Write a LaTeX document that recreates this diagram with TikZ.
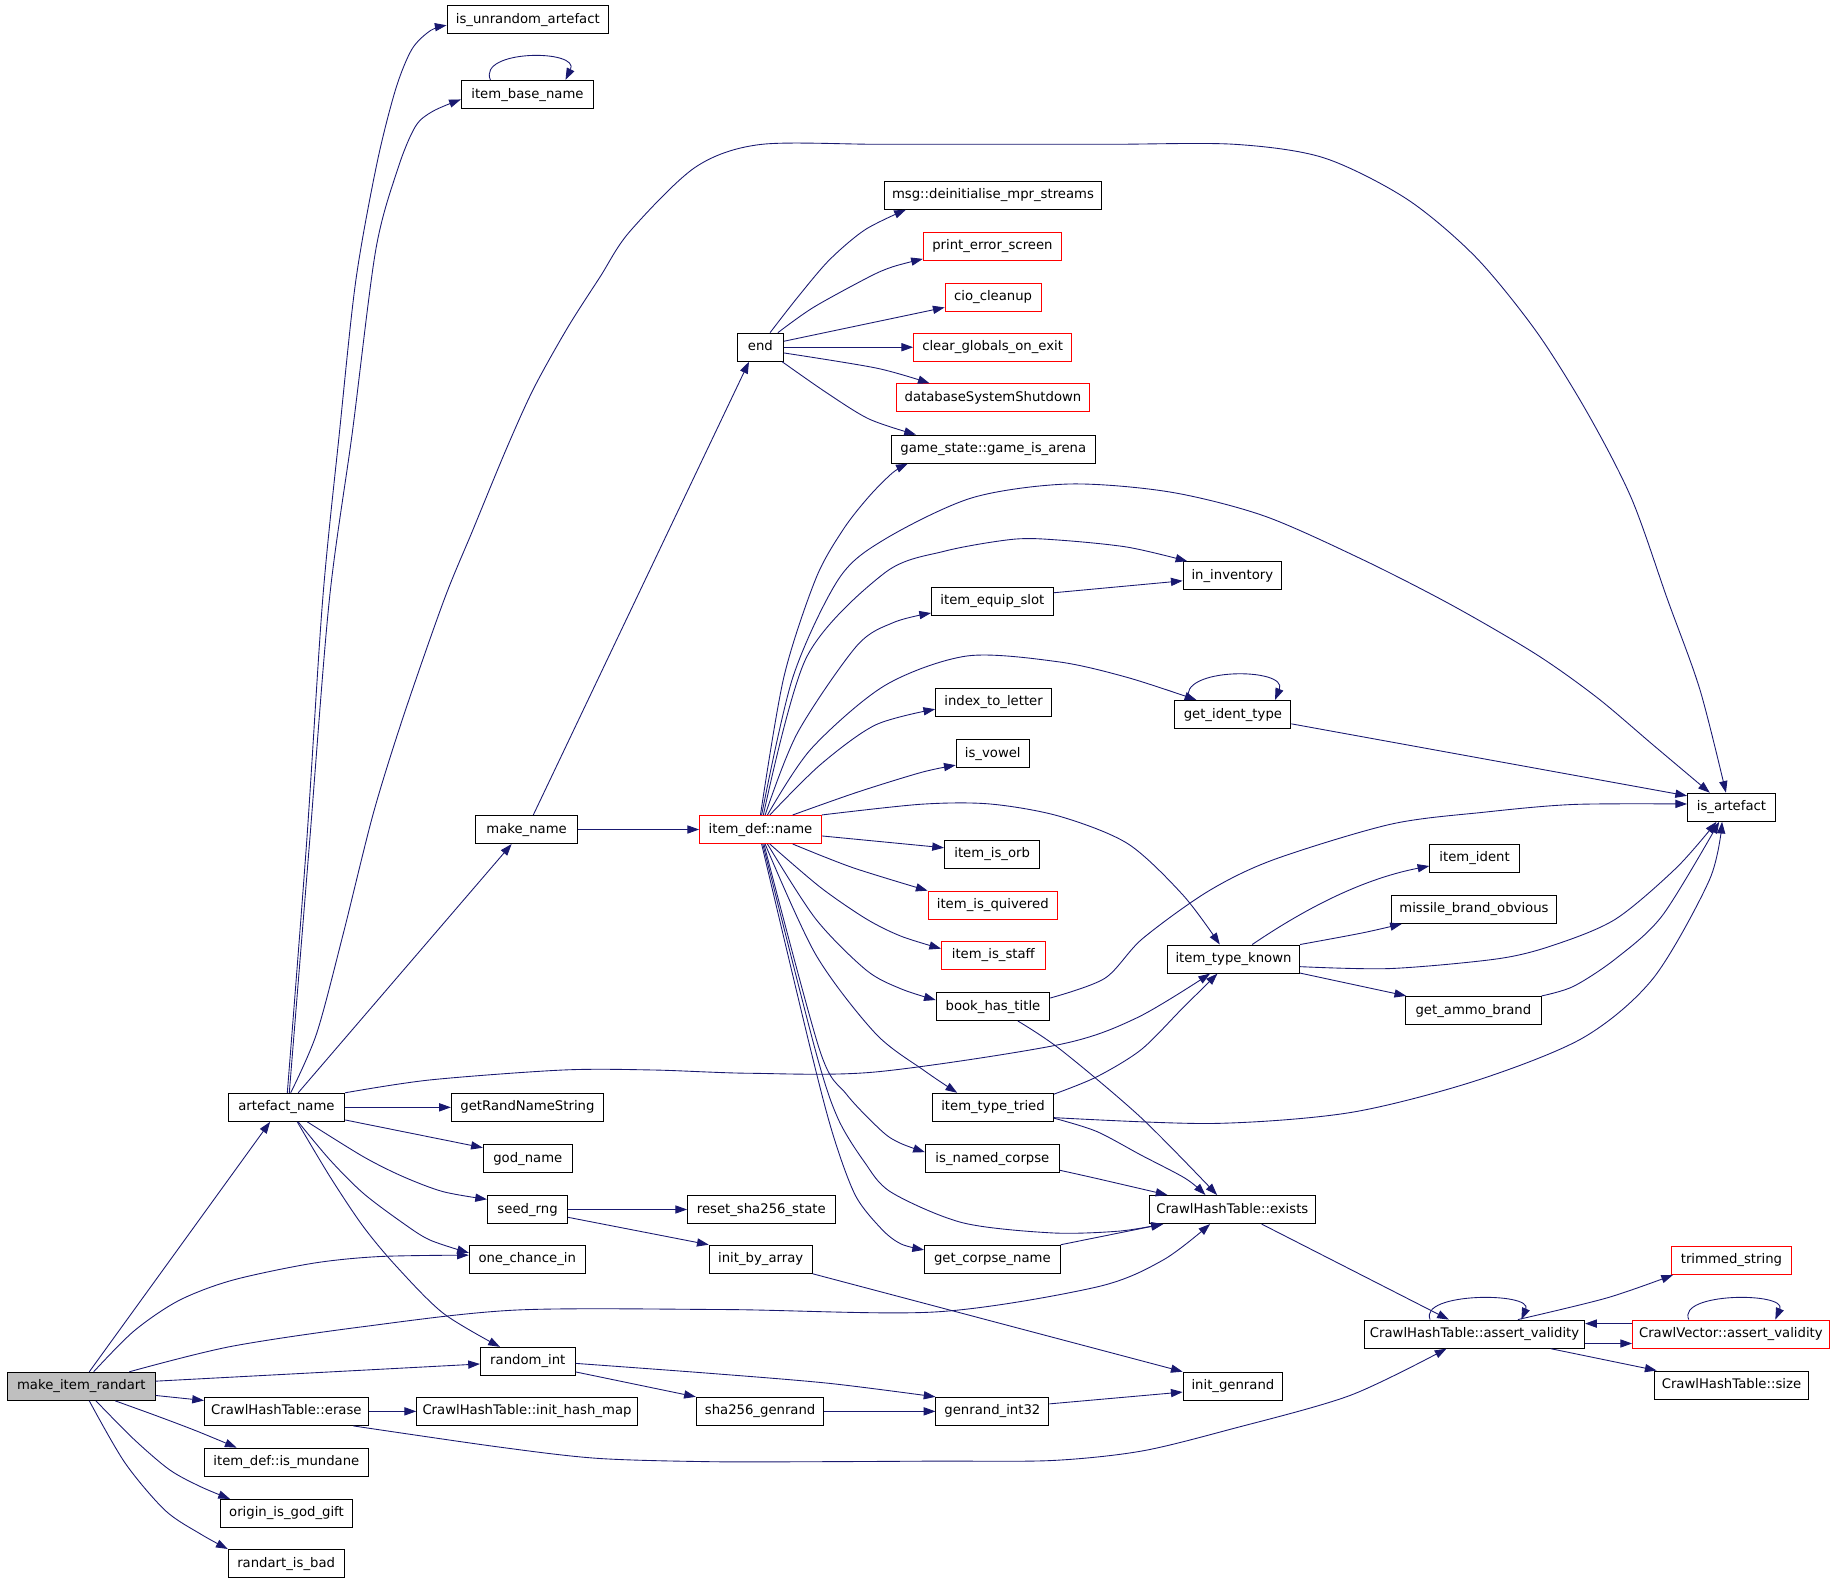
\documentclass[tikz,border=0pt]{standalone}
\usepackage{fontspec}
\setmainfont{DejaVu Sans}
\usetikzlibrary{arrows.meta}
\definecolor{callblue}{RGB}{25,25,112}
\definecolor{rootgray}{RGB}{191,191,191}
\tikzset{
	every node/.style={
		font=\fontsize{11.3}{13}\selectfont
	},
	fn/.style={
		shape=rectangle,
		draw=black,
		line width=0.85pt,
		minimum height=24pt,
		text height=8.7pt,
		text depth=2.6pt,
		inner sep=0pt
	},
	fnred/.style={
		fn,
		draw=red
	},
	fnroot/.style={
		fn,
		fill=rootgray
	},
	call/.style={
		draw=callblue,
		line width=0.75pt,
		->
	}
}

\begin{document}
\begin{tikzpicture}[x=1pt,y=-1pt,>={Triangle[length=10pt,width=7pt]}]
  \useasboundingbox (0,0) rectangle (1568,1351);

  \node[fnroot, minimum width=126pt]  (mir)         at (69.5,1184.6)  {make\_item\_randart};
  \node[fn, minimum width=99.5pt]     (artn)        at (244.8,946.2)  {artefact\_name};
  \node[fn, minimum width=140pt]      (erase)       at (244.7,1206)   {CrawlHashTable::erase};
  \node[fn, minimum width=140pt]      (mundane)     at (244.7,1249.4) {item\_def::is\_mundane};
  \node[fn, minimum width=112.5pt]    (godgift)     at (244.8,1293.2) {origin\_is\_god\_gift};
  \node[fn, minimum width=99pt]       (randbad)     at (244.5,1336)   {randart\_is\_bad};

  \node[fn, minimum width=138pt]      (unrand)      at (451,16.8)     {is\_unrandom\_artefact};
  \node[fn, minimum width=113pt]      (basename)    at (450.7,80.7)   {item\_base\_name};
  \node[fn, minimum width=86.6pt]     (mkname)      at (450,708.8)    {make\_name};
  \node[fn, minimum width=130pt]      (randname)    at (450.7,946.2)  {getRandNameString};
  \node[fn, minimum width=76pt]       (godname)     at (451,990)      {god\_name};
  \node[fn, minimum width=68.5pt]     (seedrng)     at (450.8,1033.5) {seed\_rng};
  \node[fn, minimum width=99pt]       (onechance)   at (450.5,1076)   {one\_chance\_in};
  \node[fn, minimum width=81pt]       (randint)     at (451,1163.3)   {random\_int};
  \node[fn, minimum width=188.5pt]    (inithash)    at (450.3,1206)   {CrawlHashTable::init\_hash\_map};

  \node[fn, minimum width=39.5pt]     (endf)        at (649.7,296.7)  {end};
  \node[fnred, minimum width=104pt]   (iname)       at (649.8,708.8)  {item\_def::name};
  \node[fn, minimum width=126pt]      (resetsha)    at (650.5,1033.5) {reset\_sha256\_state};
  \node[fn, minimum width=88pt]       (initarray)   at (650,1076)     {init\_by\_array};
  \node[fn, minimum width=109pt]      (shagen)      at (649.5,1206)   {sha256\_genrand};

  \node[fn, minimum width=186pt]      (msgdeinit)   at (848.5,166.8)  {msg::deinitialise\_mpr\_streams};
  \node[fnred, minimum width=118pt]   (printerr)    at (848,210.4)    {print\_error\_screen};
  \node[fnred, minimum width=82pt]    (cioclean)    at (848.6,254)    {cio\_cleanup};
  \node[fnred, minimum width=135pt]   (clearglob)   at (848.2,296.7)  {clear\_globals\_on\_exit};
  \node[fnred, minimum width=165pt]   (dbshut)      at (848.5,340)    {databaseSystemShutdown};
  \node[fn, minimum width=174pt]      (arena)       at (848.8,383.8)  {game\_state::game\_is\_arena};
  \node[fn, minimum width=104pt]      (equip)       at (848,513.9)    {item\_equip\_slot};
  \node[fn, minimum width=99pt]       (idxletter)   at (849,600.2)    {index\_to\_letter};
  \node[fn, minimum width=62.5pt]     (vowel)       at (848.3,643.8)  {is\_vowel};
  \node[fn, minimum width=81.5pt]     (isorb)       at (847.8,730)    {item\_is\_orb};
  \node[fnred, minimum width=110.5pt] (quiver)      at (848.3,773.5)  {item\_is\_quivered};
  \node[fnred, minimum width=88.5pt]  (staff)       at (848.8,816.4)  {item\_is\_staff};
  \node[fn, minimum width=97pt]       (booktitle)   at (848.5,860)    {book\_has\_title};
  \node[fn, minimum width=103.5pt]    (typetried)   at (848.5,946.2)  {item\_type\_tried};
  \node[fn, minimum width=114.5pt]    (namedcorpse) at (848,990)      {is\_named\_corpse};
  \node[fn, minimum width=116pt]      (corpsename)  at (848,1076)     {get\_corpse\_name};
  \node[fn, minimum width=96.5pt]     (genrand)     at (848,1206)     {genrand\_int32};

  \node[fn, minimum width=84pt]       (ininv)       at (1053,492)     {in\_inventory};
  \node[fn, minimum width=99pt]       (identtype)   at (1053.5,610.5) {get\_ident\_type};
  \node[fn, minimum width=113pt]      (typeknown)   at (1054,819.5)   {item\_type\_known};
  \node[fn, minimum width=142pt]      (exists)      at (1053,1033.5)  {CrawlHashTable::exists};
  \node[fn, minimum width=85pt]       (initgenrand) at (1053.5,1184.5){init\_genrand};

  \node[fn, minimum width=76.5pt]     (itemident)   at (1260,733.3)   {item\_ident};
  \node[fn, minimum width=141pt]      (missile)     at (1259.5,777)   {missile\_brand\_obvious};
  \node[fn, minimum width=116pt]      (ammo)        at (1259,863.4)   {get\_ammo\_brand};
  \node[fn, minimum width=188pt]      (hashassert)  at (1260,1140)    {CrawlHashTable::assert\_validity};

  \node[fn, minimum width=75pt]       (isart)       at (1479.5,689.8) {is\_artefact};
  \node[fnred, minimum width=103pt]   (trimmed)     at (1479.5,1077)  {trimmed\_string};
  \node[fnred, minimum width=168pt]   (vecassert)   at (1479,1140)    {CrawlVector::assert\_validity};
  \node[fn, minimum width=131pt]      (hashsize)    at (1479.5,1183.5){CrawlHashTable::size};

  \draw[call] ([xshift=6.8pt]mir.north) -- ([xshift=-14pt]artn.south);
  \draw[call] plot[smooth] coordinates {([xshift=10.5pt]mir.north) (114.4,1137.4) (152.6,1111.4) (198.3,1094) (267,1079.5) (324.3,1073.7) ([yshift=3.5pt]onechance.west)};
  \draw[call] plot[smooth] coordinates {([xshift=41pt]mir.north) (196.5,1150.7) (310.5,1133.6) (441.5,1119.4) (620,1119) (800,1121) (936.8,1099.8) (994,1076.6) ([xshift=-19pt]exists.south)};
  \draw[call] ([yshift=4.4pt]mir.east) -- ([yshift=-2.2pt]randint.west);
  \draw[call] ([yshift=-7.8pt]mir.east) -- ([yshift=9.3pt]erase.west);
  \draw[call] plot[smooth] coordinates {([xshift=29pt]mir.south) (133.5,1209.7) (167.8,1222.7) ([xshift=-42.5pt]mundane.north)};
  \draw[call] plot[smooth] coordinates {([xshift=12.5pt]mir.south) (114.5,1229.9) (145,1256) (171.7,1270.5) ([xshift=-48.3pt]godgift.north)};
  \draw[call] plot[smooth] coordinates {([xshift=6.8pt]mir.south) (106.8,1250) (141.2,1290.7) (171.7,1311) ([xshift=-49.9pt]randbad.north)};

  \draw[call] plot[smooth] coordinates {([xshift=0.7pt]artn.north) (262,720) (275.7,512.7) (290,370) (304,240) (322,140) (338,76.5) (352,42) (368,26) ([yshift=-4.8pt]unrand.west)};
  \draw[call] plot[smooth] coordinates {([xshift=2.4pt]artn.north) (264.5,720) (281.4,512.7) (301,370) (321,214) (340,144) (355,108) (370,95) ([yshift=-4.3pt]basename.west)};
  \draw[call] plot[smooth] coordinates {([xshift=3.6pt]artn.north) (270.6,883) (293.4,797.5) (319,695) (344.6,612.4) (379.4,512.7) (404,453) (432.5,384) (456,332) (485,280) (512.7,236.7) (538,198) (594,143) (649.4,123.5) (750,123.3) (850,123.3) (950,123.3) (1054.8,123.3) (1131,134.8) (1202,170) (1260.7,219.4) (1312.6,283) (1356,352) (1394,425.7) (1424.7,511.8) (1452.6,589.4) ([xshift=-4.7pt]isart.north)};
  \draw[call] ([xshift=10pt]artn.north) -- ([xshift=-12.8pt]mkname.south);
  \draw[call] plot[smooth] coordinates {(artn.north east) (367.4,922.8) (481.3,914.3) (558.2,914.3) (640.9,917.1) (748,916) (905,892.6) (971.5,869.7) ([xshift=-20pt]typeknown.south)};
  \draw[call] (artn) -- (randname);
  \draw[call] ([yshift=-10.8pt]artn.east) -- ([yshift=9.3pt]godname.west);
  \draw[call] plot[smooth] coordinates {([xshift=17.8pt]artn.south) (310.5,988.4) (344.6,1005.5) (378.8,1018.3) ([yshift=8.7pt]seedrng.west)};
  \draw[call] plot[smooth] coordinates {([xshift=10pt]artn.south) (282,991.2) (310.5,1019.7) (344.6,1045.3) (367.4,1059.6) ([yshift=5.5pt]onechance.west)};
  \draw[call] plot[smooth] coordinates {([xshift=9.2pt]artn.south) (282,1005.5) (310.5,1048.2) (339,1082.4) (378.8,1122.2) ([xshift=-23.8pt]randint.north)};

  \draw[call] ([xshift=5.7pt]mkname.north) -- ([xshift=-9.7pt]endf.south);
  \draw[call] (mkname) -- (iname);

  \draw[call] plot[smooth] coordinates {([xshift=8.3pt]endf.north) (681.6,254) (708.6,222.2) (739.2,196.3) ([xshift=19pt]msgdeinit.south west)};
  \draw[call] plot[smooth] coordinates {([xshift=15pt]endf.north) (695,262.7) (742.5,236.7) (762.7,228) ([yshift=1.6pt]printerr.south west)};
  \draw[call] ([yshift=5.1pt]endf.east) -- ([yshift=-8.7pt]cioclean.west);
  \draw[call] (endf) -- (clearglob);
  \draw[call] plot[smooth] coordinates {([yshift=-4.9pt]endf.east) (749.2,314.6) ([xshift=28.8pt]dbshut.north west)};
  \draw[call] plot[smooth] coordinates {([xshift=-1.5pt]endf.south east) (705.3,334.9) (742.5,358) ([xshift=21.3pt]arena.north west)};

  \draw[call] plot[smooth] coordinates {(iname.north) (669.7,579) (697,494.7) (720.4,452.6) (742.5,424.3) (762.7,404) ([xshift=14.3pt]arena.south west)};
  \draw[call] plot[smooth] coordinates {([xshift=1pt]iname.north) (677.4,579) (716.7,494.6) (756,460.8) (830.5,425.4) (912.8,413.6) (999,420.3) (1080,440.8) (1164,478) (1240,516.8) (1312.5,559) (1364.6,596) (1412.6,636.6) ([xshift=-18.5pt]isart.north)};
  \draw[call] plot[smooth] coordinates {([xshift=2.5pt]iname.north) (689,562) (756,489.5) (807,471) (865.8,460.8) (905,461.5) (963.8,467.6) ([xshift=4pt]ininv.north west)};
  \draw[call] plot[smooth] coordinates {([xshift=4pt]iname.north) (681.4,626.3) (732,552) (763.8,531.8) ([yshift=2.5pt]equip.south west)};
  \draw[call] plot[smooth] coordinates {([xshift=6pt]iname.north) (693,640) (756,585.8) (826.5,560.5) (905,565.6) (963.8,579) ([xshift=18.7pt]identtype.north west)};
  \draw[call] plot[smooth] coordinates {([xshift=8pt]iname.north) (701,653.4) (748,619.5) ([yshift=-5.8pt]idxletter.west)};
  \draw[call] plot[smooth] coordinates {([xshift=27.6pt]iname.north) (732.3,677) (787.3,660) ([yshift=2.4pt]vowel.south west)};
  \draw[call] plot[smooth] coordinates {(iname.north east) (787.3,687.2) (846,687) (905,697.4) (963.8,721) (1011,765) ([xshift=-11.7pt]typeknown.north)};
  \draw[call] ([yshift=-5.5pt]iname.east) -- ([yshift=5.6pt]isorb.west);
  \draw[call] plot[smooth] coordinates {([xshift=27.6pt]iname.south) (728.4,741.3) (quiver.north west)};
  \draw[call] plot[smooth] coordinates {([xshift=8pt]iname.south) (701,758.2) (740.2,785.2) (770,800) ([yshift=5.8pt]staff.west)};
  \draw[call] plot[smooth] coordinates {([xshift=6pt]iname.south) (697,785.2) (740.2,829) (770,845) ([yshift=5.5pt]booktitle.west)};
  \draw[call] plot[smooth] coordinates {([xshift=4pt]iname.south) (697,815.6) (748,883) (790,915) ([xshift=21.6pt]typetried.north west)};
  \draw[call] plot[smooth] coordinates {([xshift=3pt]iname.south) (700.3,897) (723.2,934.9) (753.7,966.7) (769,976.7) ([yshift=5.5pt]namedcorpse.west)};
  \draw[call] plot[smooth] coordinates {([xshift=2pt]iname.south) (696.6,897) (715.7,955) (738.5,992.7) (761.4,1018.7) (822.4,1044.8) (898.7,1053.5) (956,1052) ([xshift=12pt]exists.south west)};
  \draw[call] plot[smooth] coordinates {([xshift=1pt]iname.south) (692.7,897) (711.8,969.6) (731,1021.6) (753.7,1050.6) (770,1063) ([yshift=8pt]corpsename.west)};

  \draw[call] ([yshift=7.4pt]equip.east) -- ([yshift=-4.3pt]ininv.west);
  \draw[call] ([xshift=-37.5pt]identtype.north) .. controls (1005,570) and (1101,570) .. ([xshift=36pt]identtype.north);
  \draw[call] ([yshift=-8pt]identtype.east) -- ([yshift=9.8pt]isart.west);
  \draw[call] plot[smooth] coordinates {([yshift=7.2pt]booktitle.east) (944,836) (976,802.3) (1032,761.8) (1088,734.7) (1188.3,704.3) (1268.4,694) (1344.6,687.4) ([yshift=2.8pt]isart.west)};
  \draw[call] plot[smooth] coordinates {([xshift=21.2pt]booktitle.south) (906.4,897) (975,955) ([xshift=-13pt]exists.north)};
  \draw[call] plot[smooth] coordinates {([yshift=11.3pt]typetried.east) (936.8,920.3) (975,897) (1010,862) ([xshift=-13.7pt]typeknown.south)};
  \draw[call] plot[smooth] coordinates {([yshift=-8.8pt]typetried.east) (1036,960) (1153.6,950.7) (1260.4,923.7) (1352.7,886.8) (1412.6,836) (1460.8,751.6) ([xshift=-8pt]isart.south)};
  \draw[call] plot[smooth] coordinates {([yshift=-9.3pt]typetried.east) (936.8,966.7) (975,987) (1013,1007) ([xshift=-23pt]exists.north)};
  \draw[call] plot[smooth] coordinates {([yshift=-10pt]namedcorpse.east) (937,1007) ([xshift=16pt]exists.north west)};
  \draw[call] ([yshift=12.4pt]corpsename.east) -- ([xshift=12.5pt]exists.south west);

  \draw[call] ([xshift=16pt]typeknown.north) .. controls (1110,780) and (1160,752) .. ([yshift=-6.7pt]itemident.west);
  \draw[call] plot[smooth] coordinates {(typeknown.north east) (1164,797.2) ([xshift=9.3pt]missile.south west)};
  \draw[call] plot[smooth] coordinates {([yshift=-6.5pt]typeknown.east) (1188.3,827.6) (1280.4,819.2) (1328.5,807.3) (1380.6,785.3) (1432.6,741.4) ([xshift=-12.8pt]isart.south)};
  \draw[call] ([yshift=-12pt]typeknown.east) -- ([xshift=1pt]ammo.north west);
  \draw[call] plot[smooth] coordinates {(ammo.north east) (1344.6,842.8) (1380.6,819.2) (1420.7,782) ([xshift=-10.5pt]isart.south)};

  \draw[call] ([xshift=25pt]exists.south) -- ([xshift=-22pt]hashassert.north);
  \draw[call] ([xshift=-38pt]hashassert.north) .. controls (1212,1104) and (1310,1104) .. ([xshift=40pt]hashassert.north);
  \draw[call] plot[smooth] coordinates {([xshift=37pt]hashassert.north) (1373.3,1109) ([xshift=2pt]trimmed.south west)};
  \draw[call] ([yshift=-8pt]hashassert.east) -- ([yshift=-8pt]vecassert.west);
  \draw[call] ([yshift=9pt]vecassert.west) -- ([yshift=9pt]hashassert.east);
  \draw[call] ([xshift=-36pt]vecassert.north) .. controls (1433,1104) and (1527,1104) .. ([xshift=38pt]vecassert.north);
  \draw[call] ([xshift=65pt]hashassert.south) -- ([xshift=2pt]hashsize.north west);

  \draw[call] (seedrng) -- (resetsha);
  \draw[call] ([yshift=-6.7pt]seedrng.east) -- (initarray.north west);
  \draw[call] (initarray.south east) -- (initgenrand.north west);
  \draw[call] plot[smooth] coordinates {([yshift=-1.7pt]randint.east) (606.7,1173.5) (708,1182) (genrand.north west)};
  \draw[call] ([yshift=-9pt]randint.east) -- (shagen.north west);
  \draw[call] (shagen) -- (genrand);
  \draw[call] ([yshift=6.4pt]genrand.east) -- ([yshift=-5pt]initgenrand.west);
  \draw[call] (erase) -- (inithash);
  \draw[call] plot[smooth] coordinates {([xshift=57.2pt]erase.south) (424.4,1236.2) (509.9,1246.1) (606.7,1249) (700,1249) (800,1248.5) (898.7,1248) (975,1240) (1051.4,1221.3) (1153.6,1192.4) ([xshift=-24pt]hashassert.south)};

  \draw[call] ([xshift=-31.7pt]basename.north) .. controls (408,42) and (496,42) .. ([xshift=32.5pt]basename.north);
\end{tikzpicture}
\end{document}
